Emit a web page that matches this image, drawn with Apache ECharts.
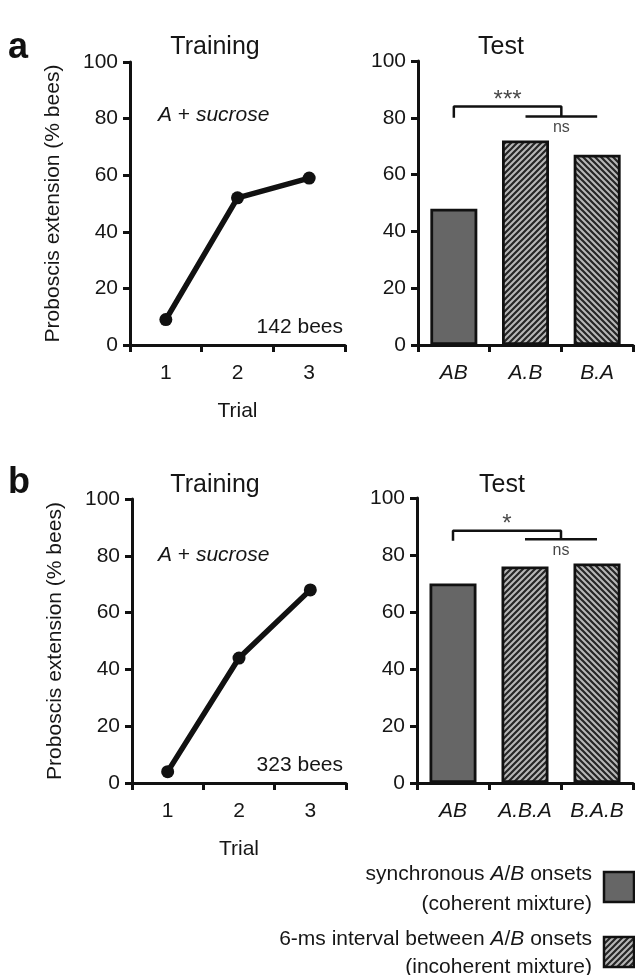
<!DOCTYPE html>
<html><head><meta charset="utf-8">
<script src="https://cdn.jsdelivr.net/npm/echarts@6/dist/echarts.min.js"></script>
<style>html,body{margin:0;padding:0;background:#fff}#c{width:635px;height:975px}</style>
</head><body><div id="c"></div>
<script>
// ---- data ----
const trials = ['1', '2', '3'];
const trainA = [9, 52, 59];
const trainB = [4, 44, 68];
const testCatsA = ['AB', 'A.B', 'B.A'];
const testA = [48, 72, 67];
const testCatsB = ['AB', 'A.B.A', 'B.A.B'];
const testB = [70, 76, 77];
// significance brackets: [top, left-leg bottom, ns line]
const sigA = [84, 80, 80.5];
const sigB = [88.5, 85, 85.5];
const starsA = '***';
const starsB = '*';
const beesA = '142 bees';
const beesB = '323 bees';

const FONT = 'Liberation Sans, Arial, sans-serif';
const INK = '#111';
const TXT = '#161616';

function hatch(dir) {
  const s = 6, c = document.createElement('canvas');
  c.width = c.height = s;
  const g = c.getContext('2d');
  g.fillStyle = '#b8b8b8'; g.fillRect(0, 0, s, s);
  g.strokeStyle = '#262626'; g.lineWidth = 2.2; g.beginPath();
  if (dir > 0) {
    g.moveTo(-1, s + 1); g.lineTo(s + 1, -1);
    g.moveTo(-1, 1); g.lineTo(1, -1);
    g.moveTo(s - 1, s + 1); g.lineTo(s + 1, s - 1);
  } else {
    g.moveTo(-1, -1); g.lineTo(s + 1, s + 1);
    g.moveTo(s - 1, -1); g.lineTo(s + 1, 1);
    g.moveTo(-1, s - 1); g.lineTo(1, s + 1);
  }
  g.stroke();
  return c;
}
const hatchR = { image: hatch(1), repeat: 'repeat' };
const hatchL = { image: hatch(-1), repeat: 'repeat' };
const solid = '#666666';

const axisLine = { show: true, onZero: false, lineStyle: { color: INK, width: 3 } };
const axisTick = { show: true, inside: false, length: 7, lineStyle: { color: INK, width: 3 } };

function catAxis(gi, data, italic, name) {
  return {
    type: 'category', gridIndex: gi, data: data, boundaryGap: true,
    axisLine: axisLine, axisTick: axisTick,
    axisLabel: { fontSize: 21, color: TXT, fontFamily: FONT, margin: 18, fontStyle: italic ? 'italic' : 'normal' },
    name: name || '', nameLocation: 'middle', nameGap: 56,
    nameTextStyle: { fontSize: 21, color: TXT, fontFamily: FONT }
  };
}
function valAxis(gi, name) {
  return {
    type: 'value', gridIndex: gi, min: 0, max: 100, interval: 20,
    axisLine: axisLine, axisTick: axisTick, splitLine: { show: false },
    axisLabel: { fontSize: 21, color: TXT, fontFamily: FONT, margin: 12 },
    name: name || '', nameLocation: 'middle', nameGap: 66, nameRotate: 90,
    nameTextStyle: { fontSize: 21, color: TXT, fontFamily: FONT }
  };
}
function hiddenX(gi) {
  return { type: 'value', gridIndex: gi, min: -0.5, max: 2.5, show: false };
}
function barData(vals) {
  const fills = [solid, hatchR, hatchL];
  return vals.map((v, i) => ({ value: v, itemStyle: { color: fills[i] } }));
}
function bracketSeries(xi, yi, sig, stars) {
  const ls = { color: INK, width: 2.5 };
  return [
    { type: 'line', xAxisIndex: xi, yAxisIndex: yi, symbol: 'none', silent: true,
      lineStyle: ls, data: [[0, sig[1]], [0, sig[0]], [1.5, sig[0]], [1.5, sig[2]]] },
    { type: 'line', xAxisIndex: xi, yAxisIndex: yi, symbol: 'none', silent: true,
      lineStyle: ls, data: [[1, sig[2]], [2, sig[2]]] },
    { type: 'scatter', xAxisIndex: xi, yAxisIndex: yi, symbolSize: 1, silent: true,
      itemStyle: { color: 'rgba(0,0,0,0)' },
      data: [
        { value: [0.75, sig[0] + 2.2], label: { show: true, position: 'inside', formatter: stars, fontSize: 24, color: TXT, fontFamily: FONT } },
        { value: [1.5, sig[2] - 4.1], label: { show: true, position: 'inside', formatter: 'ns', fontSize: 16, color: TXT, fontFamily: FONT } }
      ] }
  ];
}
function lineSeries(xi, yi, vals) {
  return { type: 'line', xAxisIndex: xi, yAxisIndex: yi, data: vals,
    symbol: 'circle', symbolSize: 13, lineStyle: { color: INK, width: 5.5 },
    itemStyle: { color: INK } };
}
function barSeries(xi, yi, vals) {
  return { type: 'bar', xAxisIndex: xi, yAxisIndex: yi, data: barData(vals),
    barWidth: 47, itemStyle: { borderColor: INK, borderWidth: 2.8 } };
}

function txt(x, y, text, opt) {
  return { type: 'text', x: x, y: y, silent: true,
    style: Object.assign({ text: text, fill: TXT, fontSize: 21, fontFamily: FONT,
      align: 'center', verticalAlign: 'middle',
      rich: { i: { fontStyle: 'italic', fontSize: (opt && opt.fontSize) || 21, fontFamily: FONT, fill: TXT } } }, opt || {}) };
}

const option = {
  animation: false,
  backgroundColor: '#fff',
  grid: [
    { left: 130, top: 62, width: 215, height: 283 },
    { left: 418, top: 61, width: 215, height: 284 },
    { left: 132, top: 499, width: 214, height: 284 },
    { left: 417, top: 498, width: 216, height: 285 }
  ],
  xAxis: [
    catAxis(0, trials, false, 'Trial'),
    catAxis(1, testCatsA, true),
    catAxis(2, trials, false, 'Trial'),
    catAxis(3, testCatsB, true),
    hiddenX(1),
    hiddenX(3)
  ],
  yAxis: [
    valAxis(0, 'Proboscis extension (% bees)'),
    valAxis(1),
    valAxis(2, 'Proboscis extension (% bees)'),
    valAxis(3)
  ],
  series: [
    lineSeries(0, 0, trainA),
    barSeries(1, 1, testA),
    lineSeries(2, 2, trainB),
    barSeries(3, 3, testB)
  ].concat(bracketSeries(4, 1, sigA, starsA), bracketSeries(5, 3, sigB, starsB)),
  graphic: [
    txt(8, 30, 'a', { align: 'left', verticalAlign: 'alphabetic', fontSize: 36, fontWeight: 'bold', fill: '#111' }),
    txt(8, 465, 'b', { align: 'left', verticalAlign: 'alphabetic', fontSize: 36, fontWeight: 'bold', fill: '#111' }),
    txt(215, 47, 'Training', { fontSize: 25 }),
    txt(501, 47, 'Test', { fontSize: 25 }),
    txt(215, 485, 'Training', { fontSize: 25 }),
    txt(502, 485, 'Test', { fontSize: 25 }),
    txt(158, 115, '{i|A} + {i|sucrose}', { align: 'left' }),
    txt(158, 555, '{i|A} + {i|sucrose}', { align: 'left' }),
    txt(343, 327, beesA, { align: 'right' }),
    txt(343, 765, beesB, { align: 'right' }),
    txt(592, 874, 'synchronous {i|A}/{i|B} onsets', { align: 'right' }),
    txt(592, 904, '(coherent mixture)', { align: 'right' }),
    txt(592, 939, '6-ms interval between {i|A}/{i|B} onsets', { align: 'right' }),
    txt(592, 967, '(incoherent mixture)', { align: 'right' }),
    { type: 'rect', shape: { x: 604, y: 872, width: 30, height: 30 }, silent: true,
      style: { fill: solid, stroke: INK, lineWidth: 2.5 } },
    { type: 'rect', shape: { x: 604, y: 937, width: 30, height: 30 }, silent: true,
      style: { fill: hatchR, stroke: INK, lineWidth: 2.5 } }
  ]
};
const chart = echarts.init(document.getElementById('c'), null, { renderer: 'canvas' });
chart.setOption(option);
</script></body></html>
